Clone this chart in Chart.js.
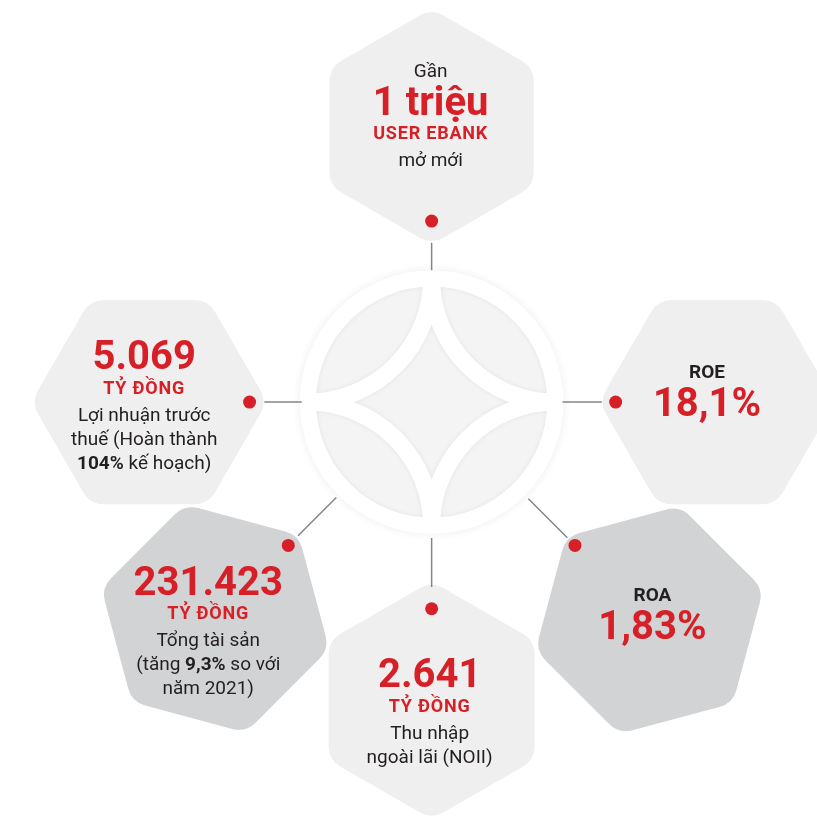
<!DOCTYPE html>
<html>
<head>
<meta charset="utf-8">
<script src="https://cdn.jsdelivr.net/npm/chart.js@4.4.0/dist/chart.umd.min.js"></script>
<style>
  html, body { margin: 0; padding: 0; background: #fff; }
  #wrap { width: 817px; height: 817px; }
</style>
</head>
<body>
<div id="wrap"><canvas id="kpiChart"></canvas></div>
<script>
// KPI data, clockwise from the top
const kpiTitles = ['Gần', 'ROE', 'ROA', '', '', ''];
const kpiValues = ['1 triệu', '18,1%', '1,83%', '2.641', '231.423', '5.069'];
const kpiUnits = ['USER EBANK', '', '', 'TỶ ĐỒNG', 'TỶ ĐỒNG', 'TỶ ĐỒNG'];
const kpiNotes = [
  ['mở mới'],
  [],
  [],
  ['Thu nhập', 'ngoài lãi (NOII)'],
  ['Tổng tài sản', '(tăng **9,3%** so với', 'năm 2021)'],
  ['Lợi nhuận trước', 'thuế (Hoàn thành', '**104%** kế hoạch)']
];

// layout of the spokes around the logo
const center = { x: 432, y: 402 };
const spokeAngles = [-90, 0, 45, 90, 135, 180];
const hexDist = [280, 290, 313, 303, 311, 287];
const hexRadius = [118, 118, 118, 119, 118, 118];
const hexRotation = [30, 0, -15, 30, 15, 0];
const hexFill = ['#efefef', '#efefef', '#d1d3d4', '#efefef', '#d1d3d4', '#efefef'];
const dotDist = [184, 187, 206, 210, 206, 185];
const lineFrom = [134, 133, 139, 138, 137, 132];
const lineTo = [162, 173, 195, 188, 192, 170];
const textShift = [[-1, -26], [-10, 0], [3, 5], [-2, -27], [-7, -38], [-5, -47]];

const RED = '#d71f27';
const DARK = '#231f20';
const FONT = 'Roboto, "DejaVu Sans", sans-serif';

function polar(angle, dist) {
  const a = angle * Math.PI / 180;
  return { x: center.x + dist * Math.cos(a), y: center.y + dist * Math.sin(a) };
}

const connectorSets = spokeAngles.map((ang, i) => ({
  type: 'line',
  data: [polar(ang, lineFrom[i]), polar(ang, lineTo[i])],
  borderColor: '#858585',
  borderWidth: 1.5,
  pointRadius: 0,
  fill: false
}));

const dotSet = {
  type: 'scatter',
  data: spokeAngles.map((ang, i) => polar(ang, dotDist[i])),
  backgroundColor: RED,
  borderWidth: 0,
  pointRadius: 6.5,
  pointHoverRadius: 6.5
};

function hexPath(c, cx, cy, R, rot, r) {
  const pts = [];
  for (let k = 0; k < 6; k++) {
    const a = (rot + 60 * k) * Math.PI / 180;
    pts.push([cx + R * Math.cos(a), cy + R * Math.sin(a)]);
  }
  const m = [(pts[5][0] + pts[0][0]) / 2, (pts[5][1] + pts[0][1]) / 2];
  c.beginPath();
  c.moveTo(m[0], m[1]);
  for (let k = 0; k < 6; k++) {
    const p = pts[k], n = pts[(k + 1) % 6];
    c.arcTo(p[0], p[1], n[0], n[1], r);
  }
  c.closePath();
}

function drawLogo(c, cx, cy) {
  const R = 132;
  c.save();
  c.shadowColor = 'rgba(0,0,0,0.07)';
  c.shadowBlur = 8;
  c.beginPath();
  c.arc(cx, cy, R, 0, Math.PI * 2);
  c.fillStyle = '#fff';
  c.fill();
  c.restore();

  c.save();
  c.beginPath();
  c.arc(cx, cy, R, 0, Math.PI * 2);
  c.clip();
  c.fillStyle = '#f4f4f4';
  c.fillRect(cx - R, cy - R, 2 * R, 2 * R);
  const m = 124;
  c.beginPath();
  c.arc(cx, cy, m, 0, Math.PI * 2);
  c.moveTo(cx, cy - m);
  c.arc(cx - m, cy - m, m, 0, Math.PI / 2);
  c.moveTo(cx - m, cy);
  c.arc(cx - m, cy + m, m, -Math.PI / 2, 0);
  c.moveTo(cx, cy + m);
  c.arc(cx + m, cy + m, m, Math.PI, Math.PI * 1.5);
  c.moveTo(cx + m, cy);
  c.arc(cx + m, cy - m, m, Math.PI / 2, Math.PI);
  c.strokeStyle = '#fff';
  c.lineWidth = 17;
  c.shadowColor = 'rgba(0,0,0,0.07)';
  c.shadowBlur = 5;
  c.stroke();
  c.restore();
}

function drawRich(c, text, x, y, size, color) {
  const parts = text.split('**');
  const fonts = parts.map((p, i) => (i % 2 ? 'bold ' : '') + size + 'px ' + FONT);
  let total = 0;
  const widths = parts.map((p, i) => { c.font = fonts[i]; const w = c.measureText(p).width; total += w; return w; });
  let px = x - total / 2;
  c.textAlign = 'left';
  c.fillStyle = color;
  parts.forEach((p, i) => { c.font = fonts[i]; c.fillText(p, px, y); px += widths[i]; });
}

const kpiPlugin = {
  id: 'kpiHexagons',
  beforeDatasetsDraw(chart) {
    const c = chart.ctx, sx = chart.scales.x, sy = chart.scales.y;
    drawLogo(c, sx.getPixelForValue(center.x), sy.getPixelForValue(center.y));
    spokeAngles.forEach((ang, i) => {
      const p = polar(ang, hexDist[i]);
      c.save();
      hexPath(c, sx.getPixelForValue(p.x), sy.getPixelForValue(p.y), hexRadius[i], hexRotation[i], 24);
      c.fillStyle = hexFill[i];
      c.fill();
      c.restore();
    });
  },
  afterDatasetsDraw(chart) {
    const c = chart.ctx, sx = chart.scales.x, sy = chart.scales.y;
    c.save();
    c.textBaseline = 'alphabetic';
    spokeAngles.forEach((ang, i) => {
      const p = polar(ang, hexDist[i]);
      const x = sx.getPixelForValue(p.x) + textShift[i][0];
      let y = sy.getPixelForValue(p.y) + textShift[i][1];
      if (kpiTitles[i]) {
        const bold = kpiUnits[i] === '';
        drawRich(c, bold ? '**' + kpiTitles[i] + '**' : kpiTitles[i], x, y - 31 + 7, 19, DARK);
      }
      drawRich(c, '**' + kpiValues[i] + '**', x, y + 14, 40, RED);
      if (kpiUnits[i]) {
        y += 32;
        c.letterSpacing = '0.8px';
        drawRich(c, '**' + kpiUnits[i] + '**', x, y + 6.5, 18, RED);
        c.letterSpacing = '0px';
        y += 27;
        kpiNotes[i].forEach((line, k) => {
          drawRich(c, line, x, y + k * 24 + 6.5, 19, DARK);
        });
      }
    });
    c.restore();
  }
};

const ctx = document.getElementById('kpiChart').getContext('2d');
const kpiChart = new Chart(ctx, {
  type: 'scatter',
  data: { datasets: connectorSets.concat([dotSet]) },
  options: {
    responsive: true,
    maintainAspectRatio: false,
    animation: false,
    events: [],
    layout: { padding: 0 },
    scales: {
      x: { type: 'linear', min: 0, max: 817, display: false },
      y: { type: 'linear', min: 0, max: 817, reverse: true, display: false }
    },
    plugins: {
      legend: { display: false },
      tooltip: { enabled: false }
    }
  },
  plugins: [kpiPlugin]
});
</script>
</body>
</html>
